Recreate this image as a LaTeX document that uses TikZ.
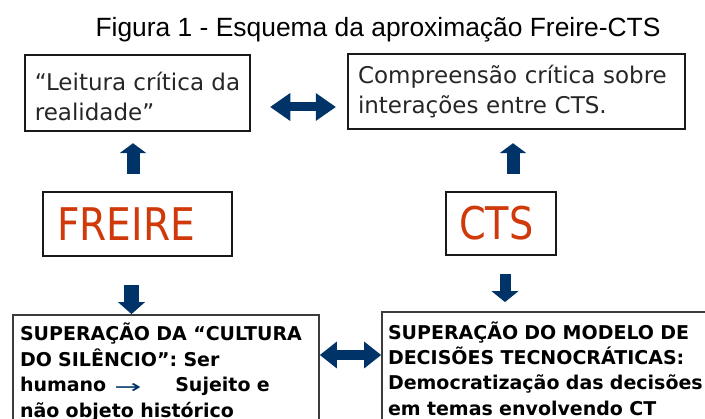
\documentclass[tikz,border=0pt]{standalone}
\usepackage{fontspec}
\setmainfont{Liberation Sans}
\newfontfamily\dejavu{DejaVu Sans}
\usetikzlibrary{arrows.meta}
\definecolor{navy}{RGB}{0,52,104}
\definecolor{freired}{RGB}{208,58,10}
\definecolor{boxline}{RGB}{25,25,25}
\tikzset{
  topbox/.style={draw=boxline, line width=2.5pt, rectangle, align=left, inner ysep=0pt, inner xsep=10pt,
    font=\dejavu\fontsize{23}{30}\selectfont, text=black!85},
  namebox/.style={draw=boxline, line width=2.5pt, rectangle, align=left, inner ysep=0pt,
    font=\dejavu\fontsize{45}{50}\selectfont, text=freired},
  lowbox/.style={draw=boxline!85, line width=1.8pt, rectangle, align=left, inner ysep=0pt,
    font=\dejavu\bfseries\fontsize{19}{25.5}\selectfont, text=black},
  barrow/.style n args={3}{draw=navy, line width=#1, -{Triangle[width=#2,length=#3,line width=0pt]}},
  dbarrow/.style n args={3}{draw=navy, line width=#1,
    {Triangle[width=#2,length=#3,line width=0pt]}-{Triangle[width=#2,length=#3,line width=0pt]}}
}
\begin{document}
\begin{tikzpicture}[x=1pt,y=-1pt]
\useasboundingbox (0,0) rectangle (705,419);
\clip (0,0) rectangle (705,419);
\fill[white] (0,0) rectangle (705,419);

\node[anchor=base, font=\fontsize{26.4}{30}\selectfont] (title) at (378,37) {Figura 1 - Esquema da aproxima\c{c}\~ao Freire-CTS};

\node[topbox, minimum width=225pt, minimum height=76pt, inner xsep=5pt] (tl) at (137.5,93)
  {\rule{0pt}{26pt}“Leitura crítica da\\realidade”};
\node[topbox, minimum width=337pt, minimum height=75pt, text width=317pt] (tr) at (516.5,91.5)
  {Compreensão crítica sobre\\interações entre CTS.};

\node[namebox, minimum width=189pt, minimum height=64pt, inner xsep=14pt, text width=161pt] (freire) at (137.5,224)
  {\scalebox{0.87}[1]{FREIRE}};
\node[namebox, minimum width=110pt, minimum height=63pt, inner xsep=13pt, text width=84pt] (cts) at (501,223.5)
  {\scalebox{0.85}[1]{CTS}};

\node[lowbox, minimum width=306pt, minimum height=114.2pt, inner xsep=7pt, text width=292pt] (bl) at (166,372.1)
  {\fontsize{19}{25.7}\selectfont SUPERAÇÃO DA “CULTURA\\DO SILÊNCIO”: Ser\\humano\hspace{8pt}\textcolor{navy}{\raisebox{-1.5pt}{\mdseries\scalebox{1.7}[1]{→}}}\hspace{34pt}Sujeito e\\não objeto histórico};
\node[lowbox, minimum width=330pt, minimum height=114pt, inner xsep=6pt, text width=318pt] (br) at (547,369)
  {\fontsize{19}{25}\selectfont SUPERAÇÃO DO MODELO DE\\DECISÕES TECNOCRÁTICAS:\\Democratização das decisões\\em temas envolvendo CT};

% connectors
\coordinate (tlm) at ([yshift=-14pt]tl.east);
\draw[dbarrow={9pt}{28pt}{20pt}, shorten <=19pt, shorten >=11pt] (tlm) -- (tlm -| tr.west);
\draw[barrow={13pt}{27pt}{10pt}, shorten <=17pt, shorten >=11pt] ([xshift=-4.5pt]freire.north) -- ([xshift=-4.5pt]tl.south);
\draw[barrow={13pt}{27pt}{10pt}, shorten <=17pt, shorten >=13pt] ([xshift=12pt]cts.north) -- ([xshift=-3.5pt]tr.south);
\coordinate (fs) at ([xshift=-6pt]freire.south);
\draw[barrow={15pt}{27pt}{12pt}, shorten <=28pt] (fs) -- (fs |- bl.north);
\coordinate (cs) at ([xshift=4pt]cts.south);
\draw[barrow={11pt}{27pt}{11pt}, shorten <=18pt, shorten >=9pt] (cs) -- (cs |- br.north);
\coordinate (lvl) at (0,355);
\coordinate (blm) at (bl.east |- lvl);
\draw[dbarrow={10pt}{27pt}{17pt}] (blm) -- (blm -| br.west);
\end{tikzpicture}
\end{document}
